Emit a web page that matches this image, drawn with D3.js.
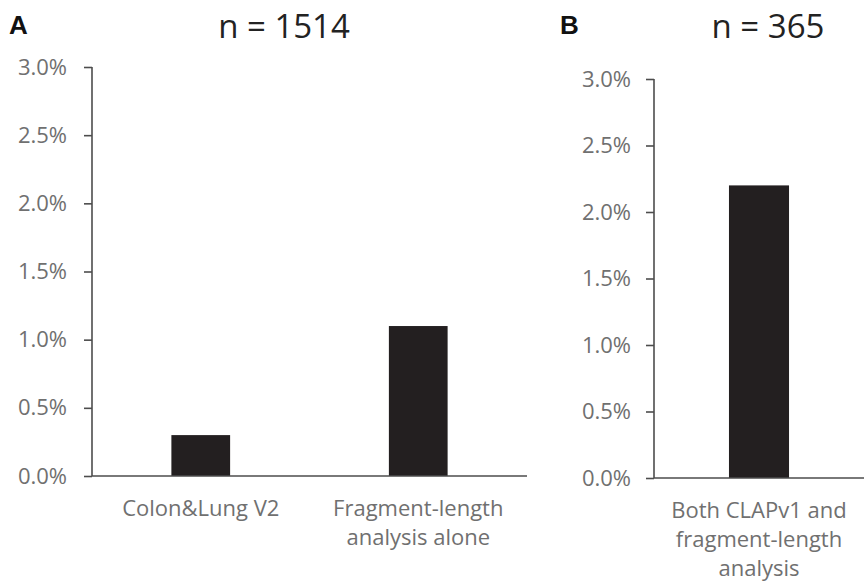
<!DOCTYPE html>
<html>
<head>
<meta charset="UTF-8" />
<title>Chart</title>
<script src="https://cdn.jsdelivr.net/npm/d3@7"></script>
<style type="text/css">
body {
    margin: 0;
    background-color: #fff;
    font-family: "Open Sans", sans-serif;
}
.axis path, .axis line {
    stroke: #4d4d4d;
    stroke-width: 1.6px;
}
.axis text {
    fill: #707070;
    font-size: 22px;
    font-family: "Open Sans", sans-serif;
}
.title {
    font-size: 33px;
    fill: #222;
}
.panel {
    font-size: 26px;
    font-weight: bold;
    font-family: "Liberation Sans", Arial, sans-serif;
    fill: #111;
}
.cat {
    fill: #707070;
    font-size: 22px;
}
</style>
</head>
<body>
<svg width="864" height="583" id="svg1"></svg>
<script type="text/javascript">
// panel A
var catsA = [["Colon&Lung V2"], ["Fragment-length", "analysis alone"]];
var valsA = [0.3, 1.1];
// panel B
var catsB = [["Both CLAPv1 and", "fragment-length", "analysis"]];
var valsB = [2.2];
var ticks = [0, 0.5, 1.0, 1.5, 2.0, 2.5, 3.0];

var svg = d3.select("#svg1");

function drawPanel(cfg) {
    var g = svg.append("g");
    var y = d3.scaleLinear().domain([0, 3]).range([cfg.bottom, cfg.top]);
    var x = d3.scaleBand().domain(d3.range(cfg.vals.length))
        .range([cfg.left, cfg.right]).paddingInner(cfg.pad).paddingOuter(cfg.pad / 2);

    g.selectAll("rect").data(cfg.vals).enter().append("rect")
        .attr("x", function(d, i) { return x(i); })
        .attr("width", x.bandwidth())
        .attr("y", function(d) { return y(d); })
        .attr("height", function(d) { return y(0) - y(d); })
        .attr("fill", "#231f20");

    g.append("g").attr("class", "axis")
        .attr("transform", "translate(" + cfg.left + ",0)")
        .call(d3.axisLeft(y).tickValues(ticks).tickSize(cfg.tick).tickPadding(cfg.gap)
            .tickFormat(function(d) { return d.toFixed(1) + "%"; }))
        .call(function(s) { s.select(".domain").attr("d", "M0," + cfg.top + "V" + cfg.bottom); });

    g.append("line").attr("class", "axis")
        .attr("x1", cfg.left).attr("x2", cfg.right)
        .attr("y1", y(0)).attr("y2", y(0))
        .attr("stroke", "#4d4d4d").attr("stroke-width", 1.6);

    var lab = g.selectAll("text.cat").data(cfg.cats).enter().append("text")
        .attr("class", "cat")
        .attr("text-anchor", "middle");
    lab.each(function(lines, i) {
        var t = d3.select(this);
        lines.forEach(function(s, j) {
            t.append("tspan").attr("x", x(i) + x.bandwidth() / 2)
                .attr("y", cfg.bottom + 40 + j * 29).text(s);
        });
    });

    svg.append("text").attr("class", "title").attr("text-anchor", "middle")
        .attr("x", cfg.titleX).attr("y", 38).text(cfg.title);
    svg.append("text").attr("class", "panel")
        .attr("x", cfg.panelX).attr("y", 34).text(cfg.panel);
}

drawPanel({cats: catsA, vals: valsA, left: 92, right: 527, top: 67, bottom: 476,
    pad: 0.73, tick: 8, gap: 17, title: "n = 1514", titleX: 284, panel: "A", panelX: 9});
drawPanel({cats: catsB, vals: valsB, left: 654, right: 864, top: 79, bottom: 478,
    pad: 0.714, tick: 8, gap: 15, title: "n = 365", titleX: 768, panel: "B", panelX: 560});
</script>
</body>
</html>
